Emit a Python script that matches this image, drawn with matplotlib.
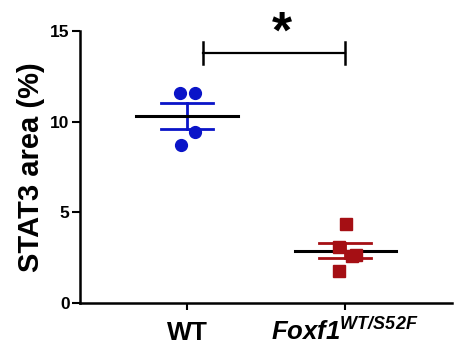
import numpy as np
import matplotlib
matplotlib.use("Agg")
import matplotlib.pyplot as plt
import matplotlib.transforms as mtransforms

plt.rcParams['font.family'] = ['Liberation Sans', 'DejaVu Sans']
plt.rcParams['mathtext.fontset'] = 'custom'
plt.rcParams['mathtext.bfit'] = 'Liberation Sans:bold:italic'
plt.rcParams['mathtext.bf'] = 'Liberation Sans:bold'

# data
groups = ["WT", "Foxf1"]
wt_values = [11.55, 11.55, 8.7, 9.45]
wt_jitter = [-0.045, 0.05, -0.04, 0.05]
mut_values = [4.35, 3.1, 2.65, 2.6, 1.75]
mut_jitter = [0.005, -0.04, 0.07, 0.045, -0.04]

blue = "#0a14c8"
red = "#a50f14"


def mean_sem(vals):
    v = np.asarray(vals)
    return v.mean(), v.std(ddof=1) / np.sqrt(len(v))


fig = plt.figure(figsize=(4.6, 3.47), dpi=100)
ax = fig.add_axes([0.174, 0.127, 0.809, 0.784])

for xc, vals, jit, col, mk in [(1, wt_values, wt_jitter, blue, "o"),
                                (2, mut_values, mut_jitter, red, "s")]:
    m, s = mean_sem(vals)
    ax.plot([xc + j for j in jit], vals, mk, color=col, markersize=8.5, zorder=3)
    ax.plot([xc - 0.32, xc + 0.32], [m, m], color="black", lw=2.2, zorder=2)
    ax.plot([xc, xc], [m - s, m + s], color=col, lw=2, zorder=1)
    for yy in (m - s, m + s):
        ax.plot([xc - 0.165, xc + 0.165], [yy, yy], color=col, lw=2, zorder=1)

# significance bracket
ax.plot([1.1, 2.0], [13.8, 13.8], color="black", lw=1.6, clip_on=False)
for xb in (1.1, 2.0):
    ax.plot([xb, xb], [13.2, 14.4], color="black", lw=1.8, clip_on=False)
ax.text(1.6, 13.45, "*", ha="center", va="bottom", fontsize=37, fontweight="bold")

ax.set_xlim(0.323, 2.677)
ax.set_ylim(0, 15)
ax.set_yticks([0, 5, 10, 15])
ax.set_xticks([1, 2])
ax.set_xticklabels(["", ""])
ax.tick_params(axis="x", length=5, width=1.5)
ax.tick_params(axis="y", labelsize=12.5, length=6, width=1.5, pad=1.5)
for lab in ax.get_yticklabels():
    lab.set_fontweight("bold")

# group labels on a common baseline under the axis
trans = mtransforms.blended_transform_factory(ax.transData, ax.transAxes)
ax.annotate(groups[0], xy=(1, 0), xycoords=trans, xytext=(0, -26.5),
            textcoords="offset points", ha="center", va="baseline",
            fontsize=19, fontweight="bold")
ax.annotate(r"$\mathbfit{%s}^{\mathbfit{WT/S52F}}$" % groups[1], xy=(2, 0),
            xycoords=trans, xytext=(0, -26.5), textcoords="offset points",
            ha="center", va="baseline", fontsize=18.5)

ax.set_ylabel("STAT3 area (%)", fontsize=21, fontweight="bold", labelpad=4)
ax.spines["top"].set_visible(False)
ax.spines["right"].set_visible(False)
ax.spines["left"].set_linewidth(1.8)
ax.spines["bottom"].set_linewidth(1.8)

fig.savefig("out.png", dpi=100)
